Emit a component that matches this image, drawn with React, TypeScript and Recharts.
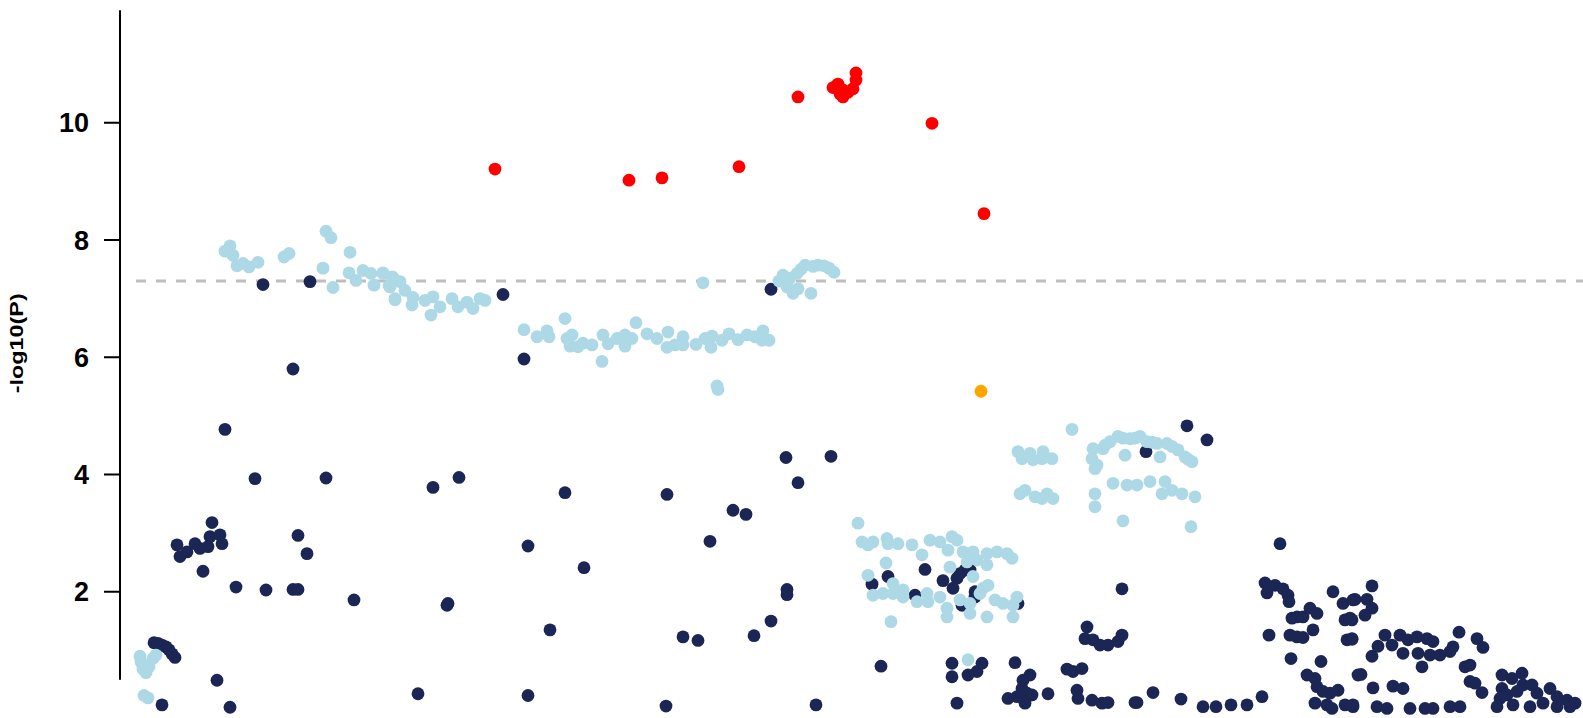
import React from "react";
import { ScatterChart, Scatter, XAxis, YAxis, ReferenceLine } from "recharts";

// [position, -log10(P)]
const navyPoints: [number, number][] = [
  [263, 7.24], [310, 7.29], [293, 5.8], [225, 4.77], [255, 3.93], [326, 3.94], [212, 3.18],
  [177, 2.8], [180, 2.6], [187, 2.68], [195, 2.82], [200, 2.74], [208, 2.77], [210, 2.94], [220, 2.97], [222, 2.82],
  [203, 2.35], [236, 2.08], [266, 2.03], [293, 2.04], [298, 2.04], [298, 2.96], [307, 2.65], [354, 1.86],
  [154, 1.13], [158, 1.12], [162, 1.09], [166, 1.06], [169, 1.01], [172, 0.94], [175, 0.88],
  [217, 0.49], [162, 0.07], [230, 0.03],
  [503, 7.07], [524, 5.97], [771, 7.16],
  [433, 3.78], [459, 3.95], [565, 3.69], [667, 3.66], [786, 4.29], [798, 3.86], [733, 3.39], [746, 3.32],
  [710, 2.86], [528, 2.78], [584, 2.41], [448, 1.8], [447, 1.77], [550, 1.35], [683, 1.23], [698, 1.17],
  [754, 1.25], [771, 1.5], [787, 2.04], [787, 1.95], [418, 0.26], [528, 0.23], [666, 0.05], [816, 0.07], [831, 4.31],
  [925, 2.38], [888, 2.26], [872, 2.13], [943, 2.19], [957, 2.23], [960, 2.31], [965, 2.37], [970, 2.37],
  [953, 2.06], [975, 2.0], [975, 1.91], [915, 1.94], [962, 1.77], [1018, 1.8],
  [881, 0.73], [952, 0.78], [952, 0.55], [968, 0.58], [977, 0.64], [982, 0.78], [1015, 0.79],
  [1030, 0.58], [1023, 0.49], [1022, 0.35], [1027, 0.27], [1032, 0.24], [1008, 0.18], [1017, 0.21], [1025, 0.1],
  [1048, 0.26], [957, 0.1],
  [1067, 0.68], [1073, 0.64], [1082, 0.69], [1077, 0.32], [1078, 0.18], [1092, 0.15], [1102, 0.1], [1108, 0.11], [1135, 0.11],
  [1122, 2.05], [1087, 1.4], [1085, 1.2], [1093, 1.18], [1100, 1.09], [1108, 1.09], [1118, 1.15], [1122, 1.26],
  [1146, 4.39], [1187, 4.83], [1207, 4.59],
  [1280, 2.82], [1265, 2.15], [1267, 1.98], [1275, 2.11], [1283, 2.05], [1288, 1.94], [1289, 1.83],
  [1292, 1.55], [1297, 1.57], [1303, 1.57], [1310, 1.72], [1317, 1.63], [1313, 1.35],
  [1269, 1.26], [1290, 1.26], [1297, 1.23], [1303, 1.22],
  [1333, 2.0], [1343, 1.8], [1353, 1.86], [1345, 1.52], [1350, 1.55], [1347, 1.18], [1352, 1.2],
  [1291, 0.86], [1321, 0.81],
  [1307, 0.58], [1315, 0.52], [1317, 0.38], [1323, 0.3], [1330, 0.27], [1338, 0.32], [1315, 0.1], [1327, 0.07],
  [1332, 0.01], [1345, 0.07], [1353, 0.04], [1358, 0.58],
  [1137, 0.11], [1153, 0.28], [1181, 0.17], [1203, 0.04], [1216, 0.04], [1231, 0.07], [1247, 0.07], [1262, 0.21],
  [1372, 2.1], [1355, 1.87], [1367, 1.87], [1372, 1.72], [1365, 1.6], [1352, 1.52], [1352, 1.19],
  [1372, 0.9], [1378, 1.07], [1385, 1.26], [1392, 1.09], [1400, 1.26], [1403, 0.95], [1408, 1.18], [1417, 1.23],
  [1418, 0.95], [1427, 1.2], [1433, 1.15], [1430, 0.92], [1440, 0.92], [1450, 0.98], [1453, 1.06], [1422, 0.72],
  [1459, 1.31], [1477, 1.2], [1483, 1.05], [1465, 0.72], [1470, 0.75], [1470, 0.47], [1475, 0.44], [1482, 0.28],
  [1361, 0.59], [1373, 0.36], [1393, 0.39], [1403, 0.35],
  [1353, 0.07], [1377, 0.04], [1387, 0.01], [1410, 0.01], [1425, 0.01], [1433, 0.01], [1450, 0.04], [1460, 0.04],
  [1502, 0.58], [1512, 0.52], [1522, 0.61], [1523, 0.41], [1532, 0.41], [1550, 0.35], [1502, 0.35], [1507, 0.24],
  [1517, 0.3], [1537, 0.27], [1557, 0.21], [1500, 0.18], [1497, 0.04], [1513, 0.07], [1530, 0.04], [1543, 0.1],
  [1557, 0.04], [1567, 0.15], [1570, 0.04], [1575, 0.1],
];

const lightBluePoints: [number, number][] = [
  [225, 7.81], [230, 7.9], [233, 7.74], [237, 7.56], [243, 7.6], [249, 7.54], [258, 7.62], [284, 7.71], [289, 7.77],
  [326, 8.15], [331, 8.04], [323, 7.52], [333, 7.19], [350, 7.79], [349, 7.44], [356, 7.31], [363, 7.48], [371, 7.43],
  [374, 7.23], [383, 7.44], [389, 7.22], [393, 7.36], [395, 7.0],
  [383, 7.43], [392, 7.37], [400, 7.29], [390, 7.2], [405, 7.14], [395, 6.98], [412, 6.89], [413, 7.02], [425, 6.97],
  [433, 7.03], [431, 6.72], [440, 6.86], [452, 7.0], [458, 6.86], [467, 6.94], [473, 6.83], [480, 7.0], [485, 6.97],
  [565, 6.66], [524, 6.47], [537, 6.35], [547, 6.45], [549, 6.35], [567, 6.32], [572, 6.38], [570, 6.19], [578, 6.18],
  [583, 6.24], [592, 6.21], [602, 5.93], [603, 6.38], [608, 6.23], [617, 6.32], [625, 6.38], [625, 6.19], [632, 6.32],
  [636, 6.59], [647, 6.4], [657, 6.32], [668, 6.43], [667, 6.17], [675, 6.21], [683, 6.35], [683, 6.21], [696, 6.22],
  [705, 6.32], [711, 6.17], [712, 6.36], [722, 6.29], [729, 6.4], [738, 6.3], [747, 6.38], [755, 6.35], [763, 6.45],
  [769, 6.29], [762, 6.29],
  [703, 7.27], [717, 5.51], [718, 5.45],
  [779, 7.3], [783, 7.4], [787, 7.2], [790, 7.35], [793, 7.09], [797, 7.43], [798, 7.17], [801, 7.5], [805, 7.57],
  [811, 7.09], [813, 7.55], [818, 7.57], [824, 7.56], [829, 7.52], [834, 7.45],
  [858, 3.17], [862, 2.85], [868, 2.8], [873, 2.85], [887, 2.91], [888, 2.82], [898, 2.82], [912, 2.8], [922, 2.63],
  [930, 2.88], [940, 2.85], [952, 2.94], [957, 2.88], [948, 2.71], [963, 2.68], [973, 2.68], [987, 2.65], [997, 2.68],
  [1007, 2.65], [1012, 2.57], [977, 2.54], [987, 2.46], [967, 2.51],
  [886, 2.49], [868, 2.28], [950, 2.42],
  [873, 1.94], [883, 1.97], [893, 2.14], [893, 1.97], [903, 2.03], [903, 1.91], [917, 1.83], [927, 1.97], [928, 1.83],
  [940, 1.91], [947, 1.72], [947, 1.57], [960, 1.86], [970, 1.8], [970, 1.63], [973, 2.26], [983, 2.06], [988, 2.11],
  [980, 1.97], [987, 1.57], [995, 1.86], [1003, 1.8], [1013, 1.57], [1017, 1.91], [1013, 1.77],
  [891, 1.49], [968, 0.84],
  [1018, 4.39], [1022, 4.27], [1030, 4.36], [1033, 4.25], [1043, 4.39], [1042, 4.27], [1052, 4.27], [1072, 4.77],
  [1020, 3.67], [1025, 3.73], [1035, 3.62], [1042, 3.59], [1047, 3.67], [1053, 3.59],
  [1093, 4.44], [1092, 4.27], [1097, 4.16], [1095, 4.1], [1103, 4.44], [1105, 4.5], [1110, 4.56], [1118, 4.65],
  [1123, 4.62], [1125, 4.33], [1130, 4.61], [1135, 4.62], [1140, 4.65], [1147, 4.56], [1152, 4.55], [1157, 4.53],
  [1160, 4.3], [1167, 4.53], [1172, 4.48], [1178, 4.42], [1185, 4.3], [1188, 4.26], [1192, 4.22],
  [1095, 3.67], [1095, 3.45], [1113, 3.85], [1127, 3.82], [1137, 3.82], [1150, 3.88], [1165, 3.88], [1162, 3.67],
  [1172, 3.73], [1182, 3.67], [1195, 3.62], [1123, 3.21], [1191, 3.11],
  [140, 0.9], [141, 0.8], [143, 0.68], [146, 0.62], [149, 0.72], [153, 0.86], [156, 0.92], [144, 0.23], [148, 0.19],
];

const redPoints: [number, number][] = [
  [495, 9.21], [629, 9.02], [662, 9.06], [739, 9.25], [798, 10.44],
  [833, 10.6], [838, 10.66], [843, 10.56], [843, 10.44], [848, 10.52], [853, 10.58], [856, 10.73], [856, 10.85],
  [840, 10.49], [837, 10.64], [932, 9.99], [984, 8.45],
];

const orangePoints: [number, number][] = [[981, 5.42]];

const yTicks = [2, 4, 6, 8, 10];
const threshold = 7.3;

const toRows = (pts: [number, number][]) => pts.map(([pos, logp]) => ({ pos, logp }));

const dot = (fill: string) => (p: any) => <circle cx={p.cx} cy={p.cy} r={6.4} fill={fill} />;

const FONT = "'Liberation Sans', Arial, Helvetica, sans-serif";

function YLabel(props: any) {
  const vb = props.viewBox || { x: 0, y: 0, height: 700 };
  const cx = vb.x + 16;
  const cy = vb.y + vb.height / 2 - 14;
  return (
    <text
      x={cx}
      y={cy}
      transform={`rotate(-90, ${cx}, ${cy})`}
      textAnchor="middle"
      dominantBaseline="central"
      fontSize={19}
      fontWeight="bold"
      fontFamily={FONT}
      fill="#000"
      textLength={100}
      lengthAdjust="spacingAndGlyphs"
    >
      -log10(P)
    </text>
  );
}

export default function App() {
  return (
    <div style={{ position: "absolute", left: 0, top: 0, width: 1583, height: 718, background: "#fff" }}>
      <ScatterChart width={1583} height={718} margin={{ top: 5.5, right: 0, bottom: 9, left: 0 }}>
        <XAxis type="number" dataKey="pos" domain={[120, 1583]} hide allowDataOverflow />
        <YAxis
          type="number"
          dataKey="logp"
          domain={[0, 12]}
          ticks={yTicks}
          width={120}
          axisLine={false}
          tickLine={{ stroke: "#000", strokeWidth: 2 }}
          tickSize={16}
          tickMargin={15}
          tick={{ fill: "#000", fontSize: 27, fontWeight: "bold", fontFamily: FONT }}
          label={<YLabel />}
        />
        <ReferenceLine segment={[{ x: 120, y: 0.5 }, { x: 120, y: 11.92 }]} stroke="#000" strokeWidth={2} />
        <ReferenceLine
          segment={[{ x: 136, y: threshold }, { x: 1583, y: threshold }]}
          stroke="#BEBEBE"
          strokeWidth={3}
          strokeDasharray="10 10"
        />
        <Scatter data={toRows(navyPoints)} shape={dot("#1B2654")} isAnimationActive={false} />
        <Scatter data={toRows(lightBluePoints)} shape={dot("#ADD8E6")} isAnimationActive={false} />
        <Scatter data={toRows(orangePoints)} shape={dot("#FFA500")} isAnimationActive={false} />
        <Scatter data={toRows(redPoints)} shape={dot("#FF0000")} isAnimationActive={false} />
      </ScatterChart>
    </div>
  );
}
